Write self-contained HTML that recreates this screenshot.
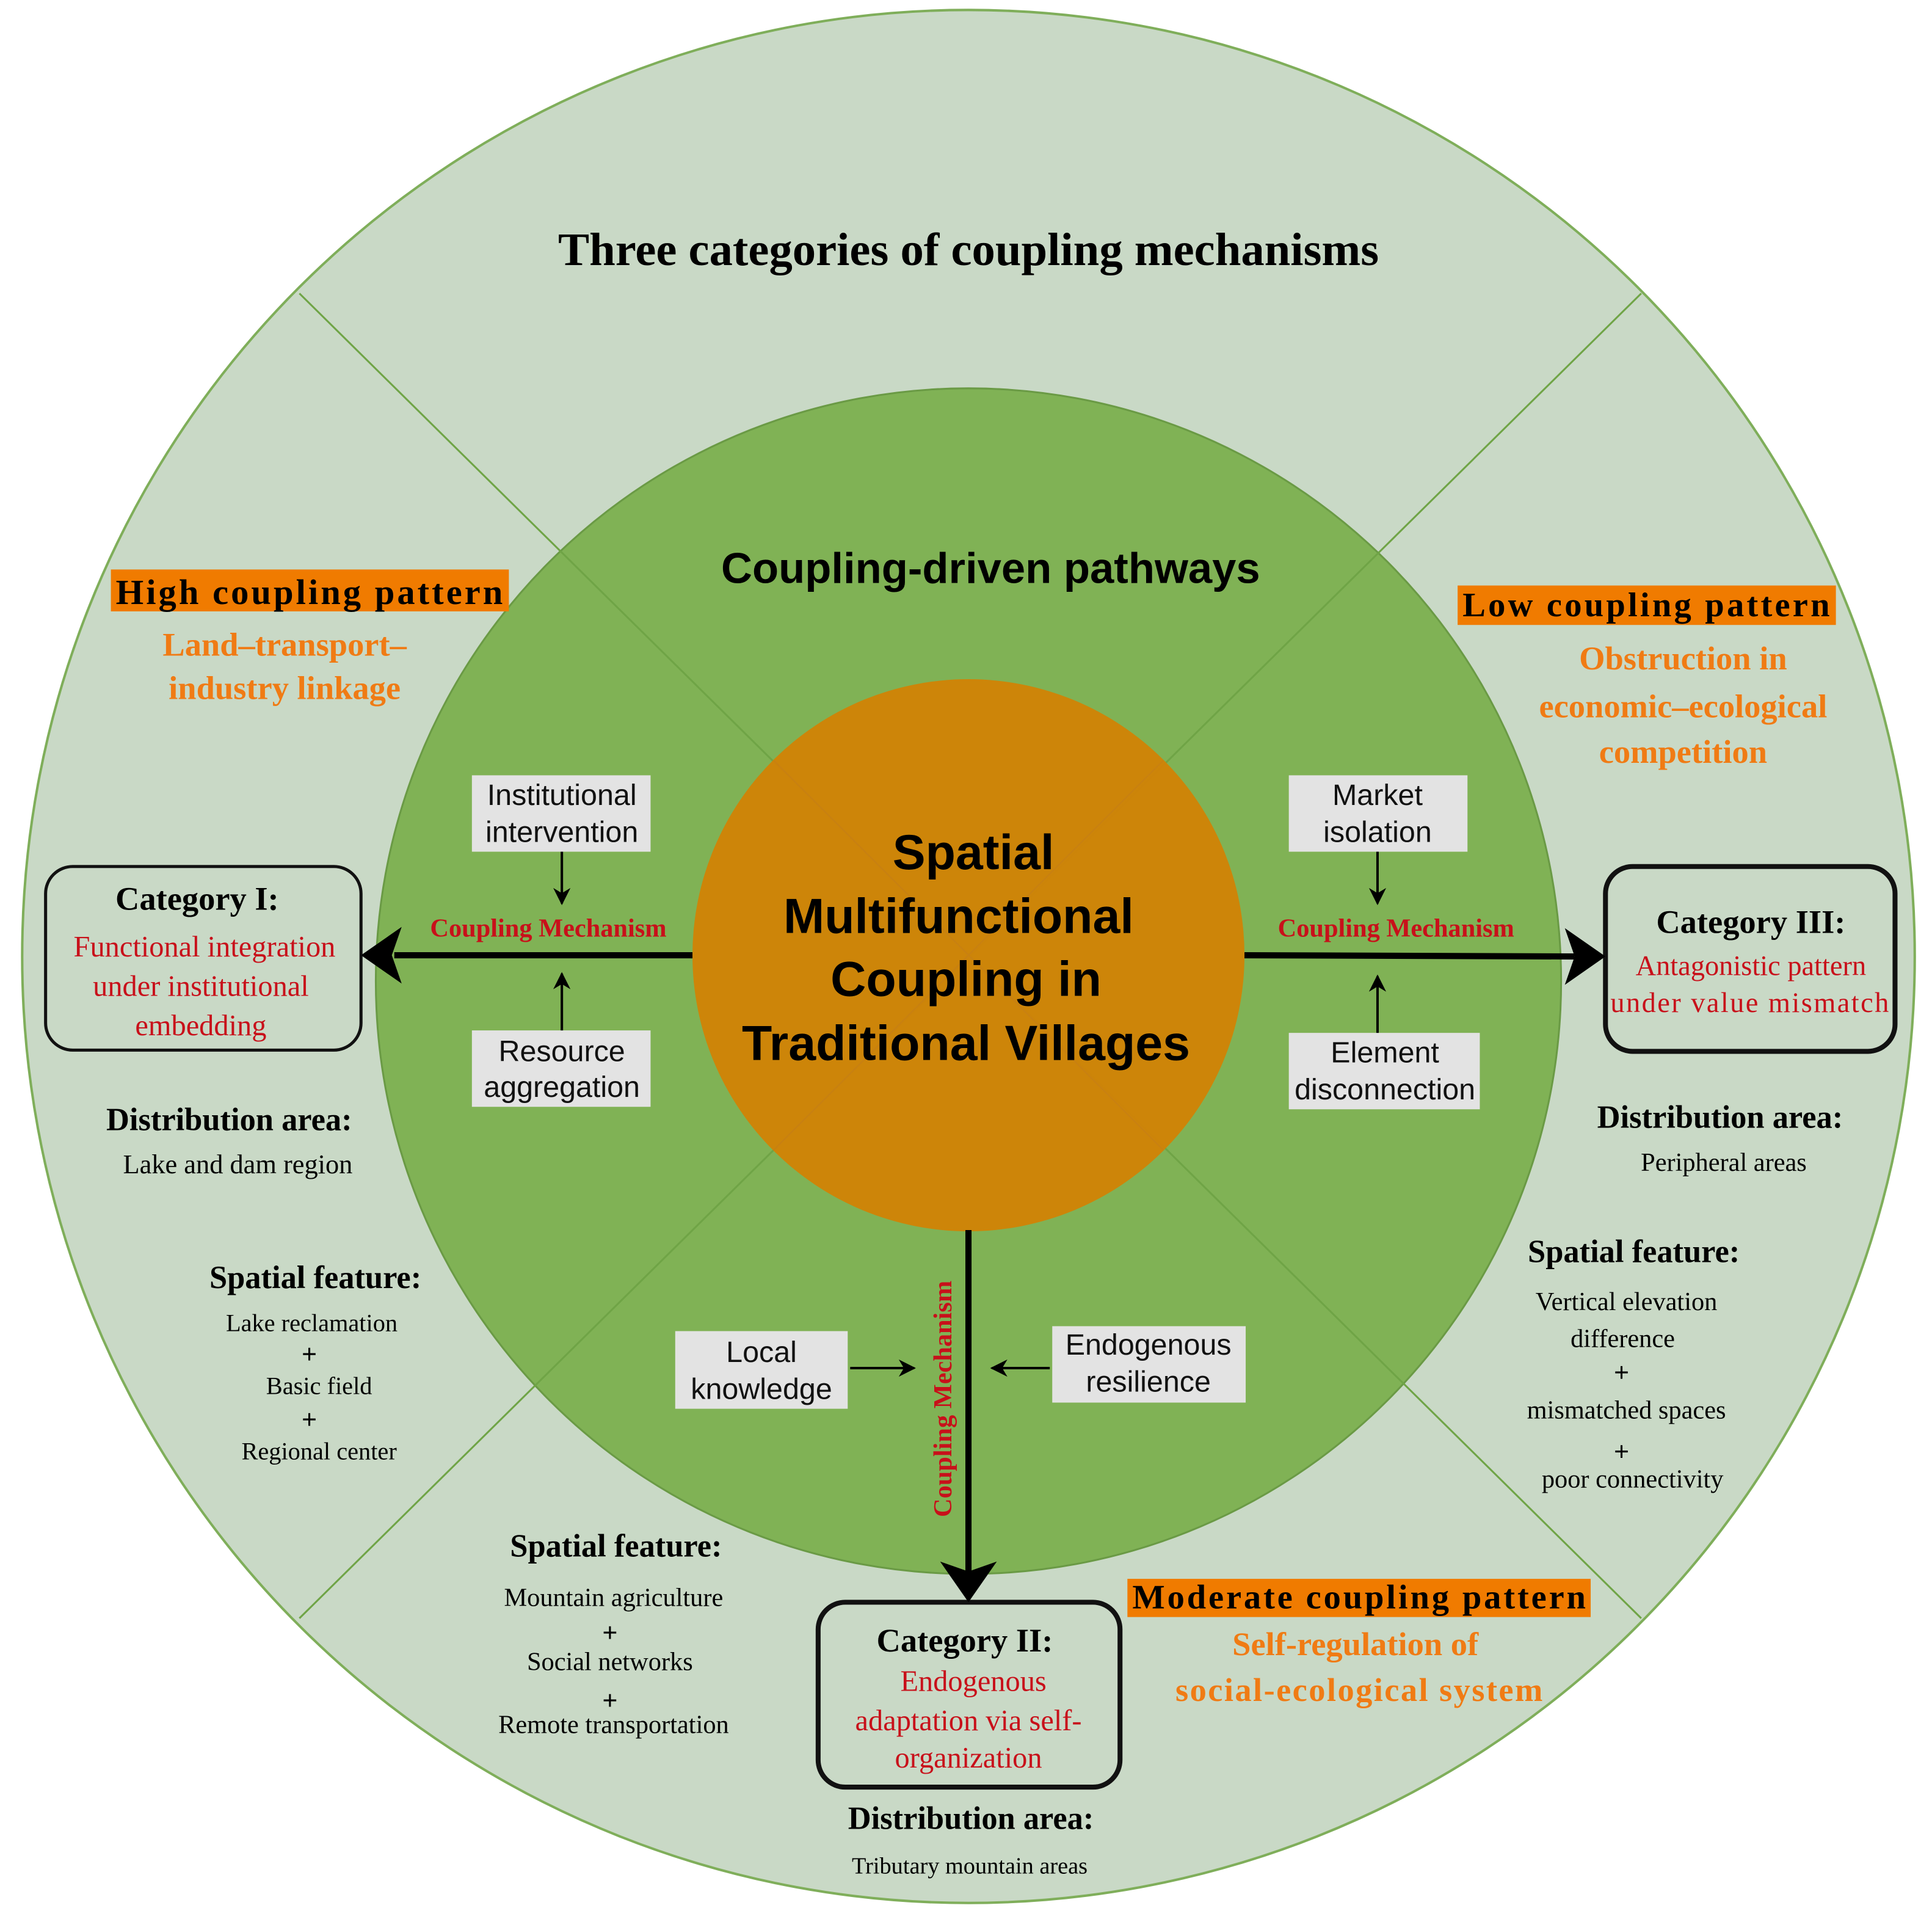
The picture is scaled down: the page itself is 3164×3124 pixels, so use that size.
<!DOCTYPE html>
<html><head><meta charset="utf-8"><style>
html,body{margin:0;padding:0;background:#fff;}
svg{display:block;}
.s{font-family:"Liberation Serif",serif;}
.a{font-family:"Liberation Sans",sans-serif;}
</style></head><body>
<svg width="3164" height="3124" viewBox="0 0 1568 1548" xmlns="http://www.w3.org/2000/svg">
<defs>
<clipPath id="oc"><circle cx="786" cy="776" r="768"/></clipPath>
<marker id="sa" viewBox="0 0 10 10" refX="9" refY="5" markerWidth="7" markerHeight="7" orient="auto-start-reverse"><path d="M0,0 L10,5 L0,10 L3,5 z" fill="#000"/></marker>
</defs>
<circle cx="786" cy="776" r="768" fill="#c9d9c6" stroke="#7fae5a" stroke-width="2"/>
<circle cx="786" cy="796" r="481" fill="#80b255" stroke="#6a9a45" stroke-width="1.5"/>
<g clip-path="url(#oc)" stroke="#6fa446" stroke-width="1.5">
<line x1="243" y1="238" x2="1332" y2="1313"/>
<line x1="1332" y1="238" x2="243" y2="1313"/>
</g>
<circle cx="786" cy="775" r="224" fill="#d08307" fill-opacity="0.97"/>
<g clip-path="url(#oc)" stroke="#c57e18" stroke-width="1" opacity="0.6">
<line x1="628" y1="617" x2="944" y2="933"/><line x1="944" y1="617" x2="628" y2="933"/>
</g>

<text class="s" x="786" y="215" font-size="38" font-weight="bold" text-anchor="middle">Three categories of coupling mechanisms</text>
<text class="a" x="804" y="473" font-size="35" font-weight="bold" text-anchor="middle">Coupling-driven pathways</text>

<g class="a" font-size="40" font-weight="bold" text-anchor="middle">
<text x="790" y="705">Spatial</text>
<text x="778" y="757">Multifunctional</text>
<text x="784" y="808">Coupling in</text>
<text x="784" y="860">Traditional Villages</text>
</g>

<!-- patterns -->
<rect x="90" y="462" width="323" height="34" fill="#f07b00"/>
<text class="s" x="251" y="490" font-size="29" font-weight="bold" text-anchor="middle" textLength="314">High coupling pattern</text>
<g class="s" font-size="27" font-weight="bold" fill="#f07b14" text-anchor="middle">
<text x="231" y="532">Land–transport–</text>
<text x="231" y="567">industry linkage</text>
</g>
<rect x="1183" y="475" width="307" height="32" fill="#f07b00"/>
<text class="s" x="1336" y="500" font-size="28" font-weight="bold" text-anchor="middle" textLength="298">Low coupling pattern</text>
<g class="s" font-size="27" font-weight="bold" fill="#f07b14" text-anchor="middle">
<text x="1366" y="543">Obstruction in</text>
<text x="1366" y="582">economic–ecological</text>
<text x="1366" y="619">competition</text>
</g>
<rect x="915" y="1281" width="376" height="31" fill="#f07b00"/>
<text class="s" x="1103" y="1305" font-size="28" font-weight="bold" text-anchor="middle" textLength="368">Moderate coupling pattern</text>
<g class="s" font-size="27" font-weight="bold" fill="#f07b14" text-anchor="middle">
<text x="1100" y="1343">Self-regulation of</text>
<text x="1103" y="1380" textLength="298">social-ecological system</text>
</g>

<!-- category boxes -->
<rect x="37" y="703" width="256" height="149" rx="22" fill="none" stroke="#111" stroke-width="2.5"/>
<text class="s" x="160" y="738" font-size="27" font-weight="bold" text-anchor="middle">Category I:</text>
<g class="s" font-size="24" fill="#c8101a" text-anchor="middle">
<text x="166" y="776">Functional integration</text>
<text x="163" y="808">under institutional</text>
<text x="163" y="840">embedding</text>
</g>
<rect x="1303" y="703" width="235" height="150" rx="22" fill="none" stroke="#111" stroke-width="4"/>
<text class="s" x="1421" y="757" font-size="27" font-weight="bold" text-anchor="middle">Category III:</text>
<g class="s" font-size="23" fill="#c8101a" text-anchor="middle">
<text x="1421" y="791">Antagonistic pattern</text>
<text x="1420" y="821" textLength="226">under value mismatch</text>
</g>
<rect x="664" y="1300" width="245" height="150" rx="22" fill="none" stroke="#111" stroke-width="4"/>
<text class="s" x="783" y="1340" font-size="27" font-weight="bold" text-anchor="middle">Category II:</text>
<g class="s" font-size="24" fill="#c8101a" text-anchor="middle">
<text x="790" y="1372">Endogenous</text>
<text x="786" y="1404">adaptation via self-</text>
<text x="786" y="1434">organization</text>
</g>

<!-- distribution / spatial -->
<g class="s" text-anchor="middle">
<text x="186" y="917" font-size="26" font-weight="bold">Distribution area:</text>
<text x="193" y="952" font-size="22">Lake and dam region</text>
<text x="256" y="1045" font-size="26" font-weight="bold">Spatial feature:</text>
<text x="253" y="1080" font-size="20">Lake reclamation</text>
<text x="251" y="1106" font-size="22" font-weight="bold">+</text>
<text x="259" y="1131" font-size="20">Basic field</text>
<text x="251" y="1159" font-size="22" font-weight="bold">+</text>
<text x="259" y="1184" font-size="20">Regional center</text>

<text x="1396" y="915" font-size="26" font-weight="bold">Distribution area:</text>
<text x="1399" y="950" font-size="21">Peripheral areas</text>
<text x="1326" y="1024" font-size="26" font-weight="bold">Spatial feature:</text>
<text x="1320" y="1063" font-size="21">Vertical elevation</text>
<text x="1317" y="1093" font-size="21">difference</text>
<text x="1316" y="1121" font-size="22" font-weight="bold">+</text>
<text x="1320" y="1151" font-size="21">mismatched spaces</text>
<text x="1316" y="1185" font-size="22" font-weight="bold">+</text>
<text x="1325" y="1207" font-size="21">poor connectivity</text>

<text x="500" y="1263" font-size="26" font-weight="bold">Spatial feature:</text>
<text x="498" y="1303" font-size="21">Mountain agriculture</text>
<text x="495" y="1332" font-size="22" font-weight="bold">+</text>
<text x="495" y="1355" font-size="21">Social networks</text>
<text x="495" y="1387" font-size="22" font-weight="bold">+</text>
<text x="498" y="1406" font-size="21">Remote transportation</text>

<text x="788" y="1484" font-size="26" font-weight="bold">Distribution area:</text>
<text x="787" y="1520" font-size="19">Tributary mountain areas</text>
</g>

<!-- gray boxes -->
<g fill="#e3e3e3">
<rect x="383" y="629" width="145" height="62"/>
<rect x="383" y="836" width="145" height="62"/>
<rect x="1046" y="629" width="145" height="62"/>
<rect x="1046" y="838" width="155" height="62"/>
<rect x="548" y="1080" width="140" height="63"/>
<rect x="854" y="1076" width="157" height="62"/>
</g>
<g class="a" font-size="24" text-anchor="middle" fill="#111">
<text x="456" y="653">Institutional</text><text x="456" y="683">intervention</text>
<text x="456" y="861">Resource</text><text x="456" y="890">aggregation</text>
<text x="1118" y="653">Market</text><text x="1118" y="683">isolation</text>
<text x="1124" y="862">Element</text><text x="1124" y="892">disconnection</text>
<text x="618" y="1105">Local</text><text x="618" y="1135">knowledge</text>
<text x="932" y="1099">Endogenous</text><text x="932" y="1129">resilience</text>
</g>

<!-- small arrows -->
<g stroke="#000" stroke-width="2" marker-end="url(#sa)">
<line x1="456" y1="691" x2="456" y2="733"/>
<line x1="456" y1="836" x2="456" y2="790"/>
<line x1="1118" y1="691" x2="1118" y2="733"/>
<line x1="1118" y1="838" x2="1118" y2="792"/>
<line x1="690" y1="1110" x2="742" y2="1110"/>
<line x1="852" y1="1110" x2="805" y2="1110"/>
</g>

<!-- main arrows -->
<g stroke="#000" stroke-width="5">
<line x1="562" y1="775" x2="320" y2="775"/>
<line x1="1010" y1="775" x2="1278" y2="776"/>
<line x1="786" y1="998" x2="786" y2="1275"/>
</g>
<polygon points="293,775 326,752 318,775 326,798" fill="#000"/>
<polygon points="1303,776 1270,753 1278,776 1270,799" fill="#000"/>
<polygon points="786,1300 763,1267 786,1275 809,1267" fill="#000"/>

<g class="s" font-size="21" font-weight="bold" fill="#c8101a" text-anchor="middle">
<text x="445" y="760">Coupling Mechanism</text>
<text x="1133" y="760">Coupling Mechanism</text>
<text transform="translate(772,1135) rotate(-90)">Coupling Mechanism</text>
</g>
</svg>
</body></html>
